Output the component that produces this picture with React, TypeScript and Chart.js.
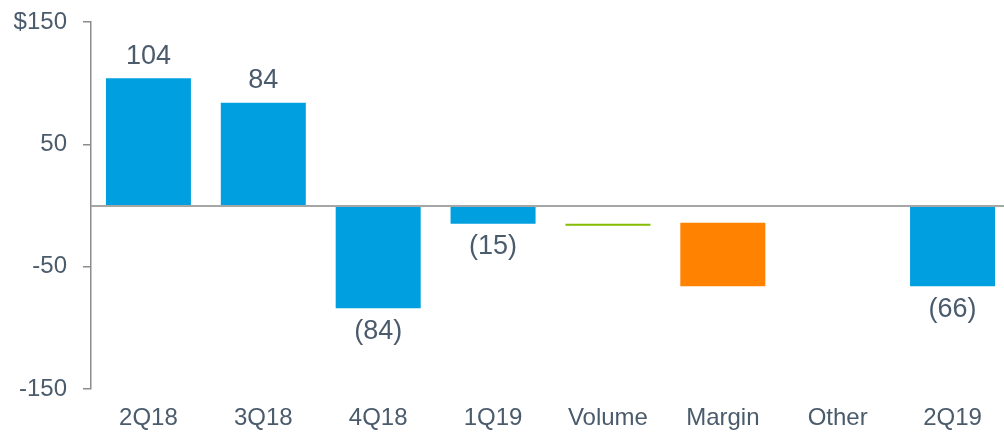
import React, { useEffect, useRef } from "react";
import { Chart, registerables } from "chart.js";

Chart.register(...registerables);

const categories = ["2Q18", "3Q18", "4Q18", "1Q19", "Volume", "Margin", "Other", "2Q19"];
const barStarts = [0, 0, 0, 0, -15, -14, -66, 0];
const barEnds = [104, 84, -84, -15, -16.5, -66, -66, -66];
const barColors = ["#009FDF", "#009FDF", "#009FDF", "#009FDF", "#84BD00", "#FF8200", "#FFFFFF", "#009FDF"];
const valueLabels = ["104", "84", "(84)", "(15)", "", "", "", "(66)"];
const yTickValues = [-150, -50, 50, 150];

const TEXT = "#4A5B6C";
const AXIS = "#8C8C8C";

export default function App() {
  const ref = useRef<HTMLCanvasElement | null>(null);
  useEffect(() => {
    document.body.style.overflow = "hidden";
    const canvas = ref.current!;
    const labelPlugin = {
      id: "valueLabels",
      afterDatasetsDraw(chart: any) {
        const ctx = chart.ctx;
        const y = chart.scales.y;
        const area = chart.chartArea;
        ctx.save();
        ctx.strokeStyle = "#A6A6A6";
        ctx.lineWidth = 2;
        const y0 = Math.round(y.getPixelForValue(0));
        ctx.beginPath();
        ctx.moveTo(area.left, y0);
        ctx.lineTo(area.right, y0);
        ctx.stroke();
        const meta = chart.getDatasetMeta(0);
        ctx.fillStyle = TEXT;
        ctx.font = "27px 'Liberation Sans', Arial, sans-serif";
        ctx.textAlign = "center";
        ctx.textBaseline = "middle";
        meta.data.forEach((bar: any, i: number) => {
          const txt = valueLabels[i];
          if (!txt) return;
          const end = barEnds[i];
          const py = y.getPixelForValue(end);
          const off = end >= 0 ? -22 : 23;
          ctx.fillText(txt, bar.x, py + off);
        });
        ctx.restore();
      },
    };
    const chart = new Chart(canvas, {
      type: "bar",
      data: {
        labels: categories,
        datasets: [
          {
            data: categories.map((_, i) => [barStarts[i], barEnds[i]]) as any,
            backgroundColor: barColors,
            borderWidth: 0,
            categoryPercentage: 1,
            barPercentage: 0.74,
          },
        ],
      },
      options: {
        responsive: false,
        animation: false,
        layout: { padding: { top: 22, right: 0, bottom: 0, left: 0 } },
        plugins: { legend: { display: false }, tooltip: { enabled: false } },
        scales: {
          x: {
            afterFit(scale: any) {
              scale.height = 46;
              scale.paddingLeft = 0;
              scale.paddingRight = 0;
            },
            grid: { display: false, drawTicks: false },
            border: { display: false },
            ticks: {
              color: TEXT,
              font: { family: "'Liberation Sans', Arial, sans-serif", size: 24 },
              padding: 15,
              maxRotation: 0,
              autoSkip: false,
            },
          },
          y: {
            min: -150,
            max: 150,
            afterFit(scale: any) {
              scale.width = 91;
              scale.paddingTop = 0;
              scale.paddingBottom = 0;
            },
            afterBuildTicks(scale: any) {
              scale.ticks = yTickValues.map((v) => ({ value: v }));
            },
            grid: {
              drawOnChartArea: false,
              drawTicks: true,
              tickLength: 8,
              color: AXIS,
              lineWidth: 1.5,
            },
            border: { display: true, color: AXIS, width: 1.5 },
            ticks: {
              color: TEXT,
              font: { family: "'Liberation Sans', Arial, sans-serif", size: 24 },
              padding: 16,
              callback: (v: any) => (v === 150 ? "$150" : String(v)),
            },
          },
        },
      },
      plugins: [labelPlugin],
    });
    return () => chart.destroy();
  }, []);
  return (
    <div style={{ position: "fixed", left: 0, top: 0, width: 1004, height: 435, overflow: "hidden", background: "#fff" }}>
      <canvas ref={ref} width={1010} height={435} style={{ display: "block" }} />
    </div>
  );
}
